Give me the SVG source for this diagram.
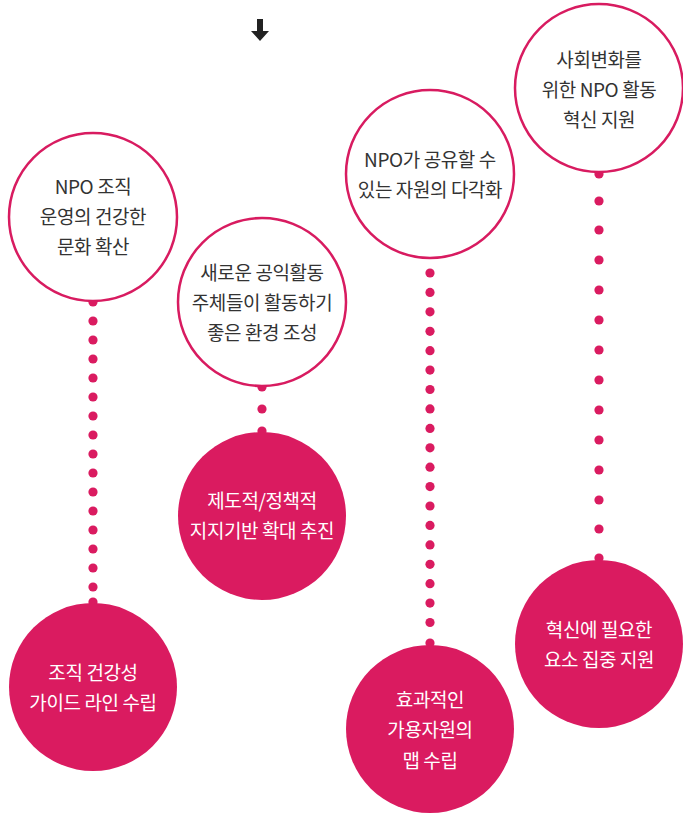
<svg xmlns="http://www.w3.org/2000/svg" width="683" height="814" viewBox="0 0 683 814">
<style>
text{font-family:"Noto Sans CJK KR","Noto Sans",sans-serif;font-size:19px;text-anchor:middle;letter-spacing:-0.4px}
.o circle{fill:#fff;stroke:#d81b60;stroke-width:2.5}
.o text{fill:#333}
.f circle{fill:#da1b60}
.f text{fill:#fff}
.dots circle{fill:#da1b60}
</style>
<rect width="683" height="814" fill="#fff"/>
<path id="arrow" d="M257 19 H263 V31 H269 L260 41 L251 31 H257 Z" fill="#222"/>
<g id="connectors" class="dots">
<circle cx="93" cy="302" r="4.6"/><circle cx="93" cy="321" r="4.6"/><circle cx="93" cy="340" r="4.6"/><circle cx="93" cy="359" r="4.6"/><circle cx="93" cy="378" r="4.6"/><circle cx="93" cy="397" r="4.6"/><circle cx="93" cy="416" r="4.6"/><circle cx="93" cy="435" r="4.6"/><circle cx="93" cy="454" r="4.6"/><circle cx="93" cy="473" r="4.6"/><circle cx="93" cy="492" r="4.6"/><circle cx="93" cy="511" r="4.6"/><circle cx="93" cy="530" r="4.6"/><circle cx="93" cy="549" r="4.6"/><circle cx="93" cy="568" r="4.6"/><circle cx="93" cy="587" r="4.6"/><circle cx="93" cy="602" r="4.6"/>
<circle cx="262" cy="387" r="4.6"/><circle cx="262" cy="409" r="4.6"/><circle cx="262" cy="431" r="4.6"/>
<circle cx="430" cy="273" r="4.6"/><circle cx="430" cy="292.4" r="4.6"/><circle cx="430" cy="311.8" r="4.6"/><circle cx="430" cy="331.3" r="4.6"/><circle cx="430" cy="350.7" r="4.6"/><circle cx="430" cy="370.1" r="4.6"/><circle cx="430" cy="389.5" r="4.6"/><circle cx="430" cy="408.9" r="4.6"/><circle cx="430" cy="428.4" r="4.6"/><circle cx="430" cy="447.8" r="4.6"/><circle cx="430" cy="467.2" r="4.6"/><circle cx="430" cy="486.6" r="4.6"/><circle cx="430" cy="506" r="4.6"/><circle cx="430" cy="525.4" r="4.6"/><circle cx="430" cy="544.9" r="4.6"/><circle cx="430" cy="564.3" r="4.6"/><circle cx="430" cy="583.7" r="4.6"/><circle cx="430" cy="603.1" r="4.6"/><circle cx="430" cy="622.5" r="4.6"/><circle cx="430" cy="643" r="4.6"/>
<circle cx="599" cy="174" r="4.6"/><circle cx="599" cy="201" r="4.6"/><circle cx="599" cy="230" r="4.6"/><circle cx="599" cy="260" r="4.6"/><circle cx="599" cy="290" r="4.6"/><circle cx="599" cy="320" r="4.6"/><circle cx="599" cy="350" r="4.6"/><circle cx="599" cy="380" r="4.6"/><circle cx="599" cy="410" r="4.6"/><circle cx="599" cy="440" r="4.6"/><circle cx="599" cy="470" r="4.6"/><circle cx="599" cy="500" r="4.6"/><circle cx="599" cy="529" r="4.6"/><circle cx="599" cy="558" r="4.6"/>
</g>
<g id="n1" class="o"><circle cx="93" cy="217" r="84"/><text x="93" y="194">NPO 조직</text><text x="93" y="224">운영의 건강한</text><text x="93" y="254">문화 확산</text></g>
<g id="n2" class="o"><circle cx="262" cy="302" r="84"/><text x="262" y="280">새로운 공익활동</text><text x="262" y="310">주체들이 활동하기</text><text x="262" y="340">좋은 환경 조성</text></g>
<g id="n3" class="o"><circle cx="430" cy="174" r="84"/><text x="430" y="167">NPO가 공유할 수</text><text x="430" y="197">있는 자원의 다각화</text></g>
<g id="n4" class="o"><circle cx="599" cy="88" r="84"/><text x="599" y="67">사회변화를</text><text x="599" y="97">위한 NPO 활동</text><text x="599" y="127">혁신 지원</text></g>
<g id="f1" class="f"><circle cx="93" cy="687" r="84"/><text x="93" y="680">조직 건강성</text><text x="93" y="710">가이드 라인 수립</text></g>
<g id="f2" class="f"><circle cx="262" cy="516" r="84"/><text x="262" y="508">제도적/정책적</text><text x="262" y="538">지지기반 확대 추진</text></g>
<g id="f3" class="f"><circle cx="430" cy="729" r="84"/><text x="430" y="707">효과적인</text><text x="430" y="737">가용자원의</text><text x="430" y="768">맵 수립</text></g>
<g id="f4" class="f"><circle cx="599" cy="644" r="84"/><text x="599" y="637">혁신에 필요한</text><text x="599" y="667">요소 집중 지원</text></g>
</svg>
